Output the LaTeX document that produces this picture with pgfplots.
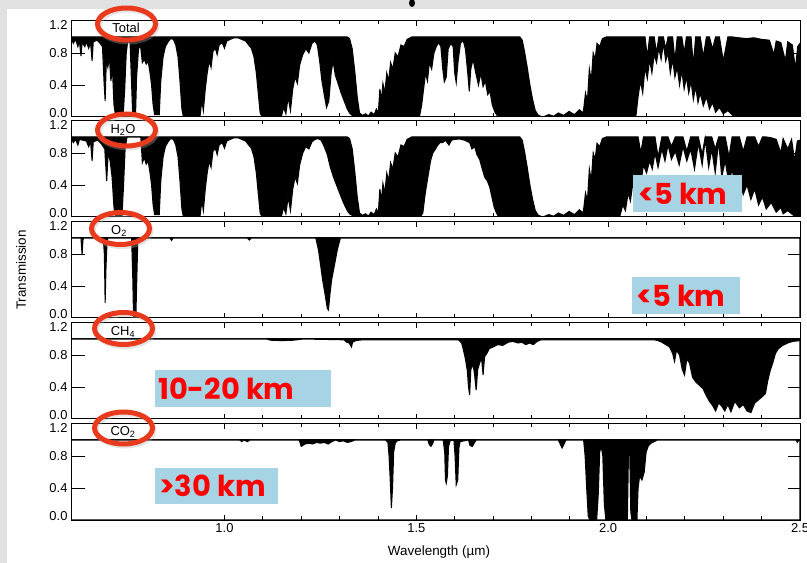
\documentclass[border=0pt]{standalone}
\usepackage{fontspec}
\setmainfont{Liberation Sans}
\newfontfamily\calloutfont{Poppins}
\usepackage{pgfplots}
\usepackage{pgfplotstable}
\pgfplotsset{compat=1.18}

\definecolor{ringred}{RGB}{234,58,30}
\definecolor{calloutbg}{RGB}{166,212,228}
\definecolor{callouttext}{RGB}{255,0,0}
\definecolor{slidegray}{RGB}{225,225,225}

% Transmission envelopes: wavelength (um), lower envelope, upper envelope
\pgfplotstableread{
x lo hi
0.600 1.00 1.00
0.606 0.92 1.00
0.612 0.97 1.00
0.618 0.88 1.00
0.622 0.95 1.00
0.626 0.76 1.00
0.629 0.93 1.00
0.636 0.88 1.00
0.640 0.94 1.00
0.646 0.86 1.00
0.651 0.93 1.00
0.655 0.70 1.00
0.658 0.94 1.00
0.668 0.96 1.00
0.676 0.92 1.00
0.682 0.88 1.00
0.686 0.45 1.00
0.689 0.20 1.00
0.692 0.70 1.00
0.696 0.62 1.00
0.700 0.75 1.00
0.704 0.45 1.00
0.708 0.60 1.00
0.712 0.15 1.00
0.716 0.02 1.00
0.736 0.02 1.00
0.740 0.35 1.00
0.744 0.80 1.00
0.748 0.95 1.00
0.754 0.92 1.00
0.758 0.40 1.00
0.761 0.00 1.00
0.768 0.00 1.00
0.771 0.50 1.00
0.776 0.85 1.00
0.781 0.90 1.00
0.786 0.68 1.00
0.791 0.72 1.00
0.796 0.66 1.00
0.801 0.70 1.00
0.806 0.55 1.00
0.810 0.40 1.00
0.814 0.15 1.00
0.818 0.03 1.00
0.830 0.03 1.00
0.834 0.45 1.00
0.840 0.75 1.00
0.846 0.88 1.00
0.853 0.94 1.00
0.860 0.98 1.00
0.867 0.97 1.00
0.873 0.90 1.00
0.879 0.75 1.00
0.884 0.45 1.00
0.889 0.10 1.00
0.893 0.00 1.00
0.936 0.00 1.00
0.941 0.20 1.00
0.945 0.08 1.00
0.950 0.35 1.00
0.955 0.55 1.00
0.960 0.70 1.00
0.965 0.62 1.00
0.970 0.82 1.00
0.976 0.86 1.00
0.981 0.78 1.00
0.986 0.90 1.00
0.994 0.93 1.00
1.000 0.86 1.00
1.006 0.95 1.00
1.015 0.97 1.00
1.025 0.99 1.00
1.035 0.99 1.00
1.045 0.97 1.00
1.055 0.95 1.00
1.063 0.90 1.00
1.070 0.86 1.00
1.077 0.75 1.00
1.083 0.55 1.00
1.088 0.30 1.00
1.093 0.05 1.00
1.098 0.00 1.00
1.148 0.00 1.00
1.154 0.12 1.00
1.160 0.04 1.00
1.166 0.25 1.00
1.172 0.08 1.00
1.178 0.35 1.00
1.184 0.50 1.00
1.190 0.42 1.00
1.196 0.65 1.00
1.204 0.78 1.00
1.212 0.85 1.00
1.220 0.80 1.00
1.228 0.92 1.00
1.236 0.95 1.00
1.242 0.90 1.00
1.248 0.70 1.00
1.254 0.45 1.00
1.260 0.28 1.00
1.266 0.12 1.00
1.272 0.20 1.00
1.278 0.55 1.00
1.283 0.70 1.00
1.289 0.52 1.00
1.296 0.42 1.00
1.304 0.30 1.00
1.312 0.20 1.00
1.320 0.10 1.00
1.326 0.05 0.98
1.333 0.02 0.85
1.340 0.00 0.55
1.346 0.00 0.25
1.352 0.00 0.05
1.360 0.00 0.02
1.368 0.00 0.04
1.375 0.00 0.01
1.382 0.00 0.06
1.390 0.00 0.03
1.396 0.00 0.10
1.401 0.00 0.05
1.405 0.00 0.35
1.409 0.00 0.20
1.413 0.00 0.42
1.418 0.00 0.30
1.423 0.00 0.55
1.428 0.00 0.45
1.433 0.00 0.68
1.439 0.00 0.60
1.445 0.00 0.80
1.452 0.00 0.75
1.460 0.00 0.90
1.468 0.00 0.88
1.476 0.00 0.97
1.488 0.00 1.00
1.508 0.00 1.00
1.514 0.15 1.00
1.519 0.35 1.00
1.524 0.55 1.00
1.529 0.45 1.00
1.534 0.68 1.00
1.540 0.60 1.00
1.546 0.80 1.00
1.552 0.88 1.00
1.558 0.93 1.00
1.564 0.88 1.00
1.569 0.60 1.00
1.573 0.44 1.00
1.578 0.50 1.00
1.583 0.85 1.00
1.590 0.92 1.00
1.596 0.88 1.00
1.600 0.55 1.00
1.604 0.43 1.00
1.609 0.70 1.00
1.615 0.92 1.00
1.622 0.96 1.00
1.628 0.85 1.00
1.634 0.55 1.00
1.638 0.32 1.00
1.642 0.60 1.00
1.648 0.72 1.00
1.655 0.55 1.00
1.662 0.40 1.00
1.668 0.55 1.00
1.674 0.38 1.00
1.680 0.45 1.00
1.686 0.28 1.00
1.692 0.32 1.00
1.698 0.15 1.00
1.705 0.06 1.00
1.712 0.01 1.00
1.770 0.00 1.00
1.776 0.00 0.96
1.782 0.00 0.82
1.789 0.00 0.62
1.796 0.00 0.40
1.803 0.00 0.22
1.810 0.00 0.08
1.818 0.00 0.02
1.830 0.00 0.00
1.845 0.00 0.03
1.858 0.00 0.01
1.870 0.00 0.05
1.884 0.00 0.02
1.898 0.00 0.07
1.912 0.00 0.03
1.925 0.00 0.09
1.935 0.00 0.05
1.941 0.00 0.30
1.946 0.00 0.20
1.951 0.00 0.60
1.956 0.00 0.45
1.961 0.00 0.80
1.966 0.00 0.72
1.971 0.00 0.92
1.978 0.00 0.88
1.985 0.00 0.98
1.995 0.00 1.00
2.072 0.00 1.00
2.078 0.25 1.00
2.084 0.45 1.00
2.090 0.30 1.00
2.096 0.62 1.00
2.102 0.48 0.75
2.108 0.72 1.00
2.114 0.55 1.00
2.120 0.78 1.00
2.126 0.68 0.80
2.132 0.86 1.00
2.138 0.72 1.00
2.144 0.92 1.00
2.150 0.70 0.85
2.156 0.80 1.00
2.162 0.55 1.00
2.168 0.72 1.00
2.174 0.50 0.70
2.180 0.62 1.00
2.186 0.40 1.00
2.192 0.58 1.00
2.198 0.35 0.80
2.204 0.50 1.00
2.210 0.30 1.00
2.216 0.45 1.00
2.222 0.22 0.65
2.228 0.38 1.00
2.234 0.18 1.00
2.240 0.30 1.00
2.248 0.14 0.75
2.256 0.25 1.00
2.264 0.10 1.00
2.272 0.18 0.85
2.280 0.06 1.00
2.290 0.12 1.00
2.300 0.04 0.70
2.312 0.08 1.00
2.325 0.02 1.00
2.340 0.00 0.99
2.360 0.00 0.98
2.380 0.00 0.99
2.400 0.00 0.97
2.420 0.00 0.96
2.432 0.00 0.78
2.438 0.00 0.95
2.450 0.00 0.93
2.462 0.00 0.70
2.468 0.00 0.94
2.480 0.00 0.90
2.488 0.00 0.60
2.494 0.00 0.88
2.500 0.00 0.92
}\totaltab

\pgfplotstableread{
x lo hi
0.600 1.00 1.00
0.606 0.93 1.00
0.612 0.97 1.00
0.618 0.90 1.00
0.622 0.97 1.00
0.640 0.95 1.00
0.646 0.88 1.00
0.651 0.94 1.00
0.655 0.70 1.00
0.658 0.94 1.00
0.670 0.96 1.00
0.680 0.91 1.00
0.688 0.85 1.00
0.693 0.45 1.00
0.697 0.80 1.00
0.702 0.70 1.00
0.707 0.50 1.00
0.712 0.12 1.00
0.716 0.02 1.00
0.733 0.02 1.00
0.737 0.40 1.00
0.741 0.85 1.00
0.746 1.00 1.00
0.782 1.00 1.00
0.786 0.68 1.00
0.791 0.74 1.00
0.796 0.66 1.00
0.801 0.70 1.00
0.806 0.55 1.00
0.810 0.40 1.00
0.814 0.15 1.00
0.818 0.03 1.00
0.830 0.03 1.00
0.834 0.45 1.00
0.840 0.75 1.00
0.846 0.88 1.00
0.853 0.94 1.00
0.860 0.98 1.00
0.867 0.97 1.00
0.873 0.90 1.00
0.879 0.75 1.00
0.884 0.45 1.00
0.889 0.10 1.00
0.893 0.00 1.00
0.936 0.00 1.00
0.941 0.20 1.00
0.945 0.08 1.00
0.950 0.35 1.00
0.955 0.55 1.00
0.960 0.70 1.00
0.965 0.62 1.00
0.970 0.82 1.00
0.976 0.86 1.00
0.981 0.78 1.00
0.986 0.90 1.00
0.994 0.93 1.00
1.000 0.86 1.00
1.006 0.95 1.00
1.015 0.97 1.00
1.025 0.99 1.00
1.035 0.99 1.00
1.045 0.97 1.00
1.055 0.95 1.00
1.063 0.90 1.00
1.070 0.86 1.00
1.077 0.75 1.00
1.083 0.55 1.00
1.088 0.30 1.00
1.093 0.05 1.00
1.098 0.00 1.00
1.148 0.00 1.00
1.154 0.12 1.00
1.160 0.04 1.00
1.166 0.25 1.00
1.172 0.08 1.00
1.178 0.35 1.00
1.184 0.50 1.00
1.190 0.42 1.00
1.196 0.65 1.00
1.204 0.80 1.00
1.212 0.88 1.00
1.220 0.85 1.00
1.228 0.94 1.00
1.236 0.97 1.00
1.244 0.98 1.00
1.252 0.96 1.00
1.260 0.88 1.00
1.268 0.78 1.00
1.276 0.62 1.00
1.284 0.50 1.00
1.292 0.40 1.00
1.300 0.30 1.00
1.310 0.18 1.00
1.320 0.08 1.00
1.326 0.04 0.98
1.333 0.02 0.85
1.340 0.00 0.55
1.346 0.00 0.25
1.352 0.00 0.05
1.360 0.00 0.02
1.368 0.00 0.04
1.375 0.00 0.01
1.382 0.00 0.06
1.390 0.00 0.03
1.396 0.00 0.10
1.401 0.00 0.05
1.405 0.00 0.35
1.409 0.00 0.20
1.413 0.00 0.42
1.418 0.00 0.30
1.423 0.00 0.55
1.428 0.00 0.45
1.433 0.00 0.68
1.439 0.00 0.60
1.445 0.00 0.80
1.452 0.00 0.75
1.460 0.00 0.90
1.468 0.00 0.88
1.476 0.00 0.97
1.488 0.00 1.00
1.510 0.00 1.00
1.517 0.05 1.00
1.522 0.25 1.00
1.526 0.38 1.00
1.532 0.55 1.00
1.537 0.70 1.00
1.543 0.80 1.00
1.550 0.85 1.00
1.556 0.90 1.00
1.562 0.93 1.00
1.569 0.93 1.00
1.576 0.96 1.00
1.585 0.90 1.00
1.592 0.96 1.00
1.600 0.97 1.00
1.613 0.975 1.00
1.626 0.96 1.00
1.639 0.93 1.00
1.645 0.85 1.00
1.652 0.88 1.00
1.658 0.78 1.00
1.665 0.72 1.00
1.672 0.60 1.00
1.678 0.50 1.00
1.685 0.45 1.00
1.691 0.38 1.00
1.697 0.25 1.00
1.703 0.12 1.00
1.709 0.05 1.00
1.715 0.00 1.00
1.770 0.00 1.00
1.776 0.00 0.96
1.782 0.00 0.82
1.789 0.00 0.62
1.796 0.00 0.40
1.803 0.00 0.22
1.810 0.00 0.08
1.818 0.00 0.02
1.830 0.00 0.00
1.845 0.00 0.03
1.858 0.00 0.01
1.870 0.00 0.05
1.884 0.00 0.02
1.898 0.00 0.07
1.912 0.00 0.03
1.925 0.00 0.09
1.935 0.00 0.05
1.941 0.00 0.30
1.946 0.00 0.20
1.951 0.00 0.60
1.956 0.00 0.45
1.961 0.00 0.80
1.966 0.00 0.72
1.971 0.00 0.92
1.978 0.00 0.88
1.985 0.00 0.98
1.995 0.00 1.00
2.030 0.00 1.00
2.038 0.15 1.00
2.045 0.08 1.00
2.052 0.30 1.00
2.058 0.20 1.00
2.065 0.45 1.00
2.071 0.38 1.00
2.078 0.55 1.00
2.085 0.42 0.80
2.092 0.65 1.00
2.100 0.55 1.00
2.108 0.70 1.00
2.115 0.60 1.00
2.122 0.80 1.00
2.130 0.62 0.75
2.140 0.85 1.00
2.148 0.70 1.00
2.156 0.90 1.00
2.165 0.72 0.88
2.175 0.82 1.00
2.185 0.65 1.00
2.195 0.88 1.00
2.205 0.70 0.82
2.215 0.85 1.00
2.225 0.60 1.00
2.235 0.92 1.00
2.245 0.65 0.78
2.253 0.97 1.00
2.262 0.62 1.00
2.270 0.85 1.00
2.279 0.55 0.85
2.288 0.95 1.00
2.296 0.50 1.00
2.305 0.70 1.00
2.315 0.42 0.75
2.323 0.60 1.00
2.332 0.35 1.00
2.342 0.50 1.00
2.352 0.28 0.82
2.362 0.40 1.00
2.372 0.22 1.00
2.382 0.35 1.00
2.392 0.15 0.88
2.402 0.25 1.00
2.412 0.10 1.00
2.425 0.18 0.99
2.438 0.06 0.97
2.450 0.12 0.80
2.456 0.04 0.98
2.468 0.08 0.85
2.478 0.04 0.97
2.486 0.01 0.70
2.493 0.00 0.95
2.500 0.00 0.96
}\watertab

\pgfplotstableread{
x lo hi
0.600 1.00 1.00
0.626 1.00 1.00
0.628 0.85 1.00
0.629 0.79 1.00
0.631 0.97 1.00
0.633 1.00 1.00
0.684 1.00 1.00
0.687 0.80 1.00
0.689 0.19 1.00
0.691 0.60 1.00
0.694 0.97 1.00
0.697 1.00 1.00
0.758 1.00 1.00
0.761 0.50 1.00
0.763 0.02 1.00
0.769 0.00 1.00
0.771 0.40 1.00
0.774 0.95 1.00
0.777 1.00 1.00
0.858 1.00 1.00
0.862 0.97 1.00
0.866 1.00 1.00
1.060 1.00 1.00
1.065 0.975 1.00
1.070 1.00 1.00
1.238 1.00 1.00
1.245 0.85 1.00
1.250 0.68 1.00
1.256 0.47 1.00
1.262 0.30 1.00
1.268 0.12 1.00
1.271 0.10 1.00
1.275 0.30 1.00
1.279 0.47 1.00
1.287 0.67 1.00
1.294 0.85 1.00
1.302 1.00 1.00
2.500 1.00 1.00
}\oxytab

\pgfplotstableread{
x lo hi
0.600 1.00 1.00
1.110 1.00 1.00
1.120 0.985 1.00
1.150 0.98 1.00
1.180 0.985 1.00
1.205 1.00 1.00
1.312 0.99 1.00
1.318 0.96 1.00
1.325 0.95 1.00
1.331 0.90 1.00
1.334 0.96 1.00
1.342 0.98 1.00
1.360 0.99 1.00
1.610 0.99 1.00
1.618 0.95 1.00
1.622 0.88 1.00
1.628 0.75 1.00
1.633 0.60 1.00
1.636 0.40 1.00
1.639 0.30 1.00
1.642 0.62 1.00
1.648 0.68 1.00
1.652 0.55 1.00
1.656 0.36 1.00
1.660 0.62 1.00
1.665 0.70 1.00
1.670 0.76 1.00
1.674 0.55 1.00
1.678 0.78 1.00
1.684 0.82 1.00
1.690 0.88 1.00
1.700 0.90 1.00
1.712 0.93 1.00
1.725 0.92 1.00
1.740 0.96 1.00
1.752 0.97 1.00
1.765 0.95 1.00
1.775 0.96 1.00
1.785 0.93 1.00
1.795 0.95 1.00
1.805 0.93 1.00
1.815 0.97 1.00
1.825 0.99 1.00
2.120 0.99 1.00
2.130 0.98 1.00
2.140 0.96 1.00
2.150 0.93 1.00
2.160 0.90 1.00
2.168 0.82 1.00
2.173 0.72 1.00
2.178 0.86 1.00
2.186 0.80 1.00
2.193 0.62 1.00
2.199 0.55 1.00
2.205 0.75 1.00
2.212 0.70 1.00
2.220 0.52 1.00
2.229 0.46 1.00
2.238 0.42 1.00
2.247 0.38 1.00
2.255 0.30 1.00
2.264 0.22 1.00
2.272 0.17 1.00
2.280 0.10 1.00
2.288 0.20 1.00
2.296 0.16 1.00
2.304 0.10 1.00
2.312 0.18 1.00
2.320 0.09 1.00
2.330 0.22 1.00
2.342 0.14 1.00
2.352 0.18 1.00
2.362 0.10 1.00
2.372 0.08 1.00
2.382 0.20 1.00
2.392 0.24 1.00
2.402 0.28 1.00
2.410 0.32 1.00
2.416 0.48 1.00
2.422 0.60 1.00
2.429 0.70 1.00
2.436 0.82 1.00
2.444 0.88 1.00
2.455 0.92 1.00
2.468 0.95 1.00
2.481 0.97 1.00
2.500 0.98 1.00
}\methtab

\pgfplotstableread{
x lo hi
0.600 1.00 1.00
1.040 1.00 1.00
1.045 0.98 1.00
1.050 1.00 1.00
1.060 0.98 1.00
1.066 1.00 1.00
1.195 1.00 1.00
1.200 0.92 1.00
1.210 0.95 1.00
1.220 0.96 1.00
1.230 0.95 1.00
1.240 0.97 1.00
1.250 0.96 1.00
1.260 0.97 1.00
1.270 0.95 1.00
1.280 0.98 1.00
1.290 1.00 1.00
1.300 0.98 1.00
1.310 0.99 1.00
1.320 0.97 1.00
1.330 0.98 1.00
1.340 1.00 1.00
1.420 1.00 1.00
1.426 0.97 1.00
1.429 0.80 1.00
1.432 0.50 1.00
1.435 0.15 1.00
1.438 0.40 1.00
1.441 0.85 1.00
1.445 0.96 1.00
1.450 0.99 1.00
1.460 1.00 1.00
1.530 1.00 1.00
1.534 0.94 1.00
1.538 0.92 1.00
1.542 0.95 1.00
1.546 1.00 1.00
1.570 1.00 1.00
1.574 0.85 1.00
1.576 0.50 1.00
1.578 0.46 1.00
1.581 0.55 1.00
1.584 0.92 1.00
1.588 0.99 1.00
1.598 1.00 1.00
1.601 0.80 1.00
1.604 0.44 1.00
1.608 0.50 1.00
1.611 0.90 1.00
1.614 0.98 1.00
1.636 1.00 1.00
1.640 0.93 1.00
1.646 0.92 1.00
1.652 0.97 1.00
1.656 1.00 1.00
1.870 1.00 1.00
1.875 0.95 1.00
1.880 0.90 1.00
1.886 0.96 1.00
1.890 1.00 1.00
1.936 1.00 1.00
1.940 0.80 1.00
1.944 0.40 1.00
1.948 0.05 1.00
1.952 0.00 1.00
1.970 0.00 1.00
1.974 0.30 1.00
1.978 0.85 1.00
1.982 0.92 1.00
1.986 0.80 1.00
1.990 0.20 1.00
1.994 0.00 1.00
2.050 0.00 1.00
2.053 0.85 1.00
2.056 0.88 1.00
2.059 0.10 1.00
2.062 0.00 1.00
2.075 0.00 1.00
2.078 0.40 1.00
2.082 0.55 1.00
2.088 0.50 1.00
2.094 0.60 1.00
2.099 0.85 1.00
2.105 0.93 1.00
2.112 0.96 1.00
2.120 0.98 1.00
2.128 1.00 1.00
2.490 1.00 1.00
2.493 0.97 1.00
2.497 1.00 1.00
2.500 1.00 1.00
}\carbtab

\pgfplotsset{
  panel/.style={
    scale only axis, width=729bp, height=96bp,
    anchor=south west,
    axis on top,
    xmin=0.6, xmax=2.5, ymin=0, ymax=1.2,
    xtick={1.0,1.5,2.0,2.5}, minor x tick num=4,
    ytick={0.4,0.8},
    extra y ticks={0.055,1.145},
    extra y tick labels={0.0,1.2},
    extra y tick style={tick style={draw=none}},
    xticklabels={},
    /pgf/number format/assume math mode=true,
    yticklabel style={/pgf/number format/fixed, /pgf/number format/fixed zerofill, /pgf/number format/precision=1},
    tick label style={font=\fontsize{13}{15}\selectfont},
    axis line style={line width=1bp},
    every tick/.style={line width=0.9bp, black},
    major tick length=5bp, minor tick length=3.5bp,
  },
  spec/.style={black, line width=1.05bp},
}

% black between the two envelopes: fill up to the upper one, clear below the lower one
\newcommand{\spectrum}[1]{%
  \addplot[spec, fill=black] table[x=x, y=hi] {#1} \closedcycle;
  \addplot[spec, fill=white] table[x=x, y=lo] {#1} \closedcycle;
}
% long inward y ticks at 0.4 and 0.8 on both sides
\newcommand{\longyticks}{%
  \draw[line width=0.9bp] (axis cs:0.6,0.4) -- (axis cs:0.6365,0.4);
  \draw[line width=0.9bp] (axis cs:0.6,0.8) -- (axis cs:0.6365,0.8);
  \draw[line width=0.9bp] (axis cs:2.5,0.4) -- (axis cs:2.469,0.4);
  \draw[line width=0.9bp] (axis cs:2.5,0.8) -- (axis cs:2.469,0.8);
}

\begin{document}
\begin{tikzpicture}
% slide background
\begin{scope}[x=1bp, y=1bp]
\fill[slidegray] (0,0) rectangle (807,563);
\fill[white] (7,0) rectangle (807,554);
\fill[black] (412,560) ellipse (3 and 4);
\end{scope}

\begin{axis}[panel, at={(71bp,446bp)}]
  \spectrum{\totaltab}
  \longyticks
\end{axis}
\begin{axis}[panel, at={(71bp,346bp)}]
  \spectrum{\watertab}
  \longyticks
\end{axis}
\begin{axis}[panel, at={(71bp,245bp)}]
  \spectrum{\oxytab}
  \longyticks
\end{axis}
\begin{axis}[panel, at={(71bp,144bp)}]
  \spectrum{\methtab}
  \longyticks
\end{axis}
\begin{axis}[panel, at={(71bp,43bp)}, xticklabels={1.0,1.5,2.0,2.5}]
  \spectrum{\carbtab}
  \longyticks
\end{axis}

\begin{scope}[x=1bp, y=1bp]
% axis titles
\node[font=\fontsize{13.5}{15}\selectfont] at (439,11) {Wavelength (µm)};
\node[font=\fontsize{13.5}{15}\selectfont, rotate=90] at (21,293) {Transmission};

% species labels with highlight rings
\begin{scope}[font=\fontsize{13}{15}\selectfont]
  \node at (126,535) {Total};
  \node at (123,433) {H\textsubscript{2}O};
  \node at (119,332) {O\textsubscript{2}};
  \node at (123,231) {CH\textsubscript{4}};
  \node at (123,131) {CO\textsubscript{2}};
\end{scope}
\foreach \cx/\cy in {126.5/539, 126.5/433, 120.5/334.5, 123.5/234.5, 123.5/135}{
  \draw[gray!60, opacity=0.35, line width=5bp] (\cx+1.5,\cy-2) ellipse (29 and 16);
  \draw[ringred, line width=5bp] (\cx,\cy) ellipse (29 and 16);
}

% altitude callouts
\fill[calloutbg] (633,351) rectangle (742,388);
\fill[calloutbg] (632,249) rectangle (740,286);
\fill[calloutbg] (155,156) rectangle (331,193);
\fill[calloutbg] (155,59) rectangle (278,95);
\begin{scope}[font=\calloutfont\bfseries\fontsize{29}{31}\selectfont, text=callouttext, inner sep=0pt]
  \node[anchor=west] at (638,369.5) {<5 km};
  \node[anchor=west] at (636,267.5) {<5 km};
  \node[anchor=west] at (158,174.5) {10-20 km};
  \node[anchor=west] at (159,77) {>30 km};
\end{scope}
\end{scope}
\pgfresetboundingbox
\path[use as bounding box] (0,0) rectangle (807bp,563bp);
\end{tikzpicture}
\end{document}
